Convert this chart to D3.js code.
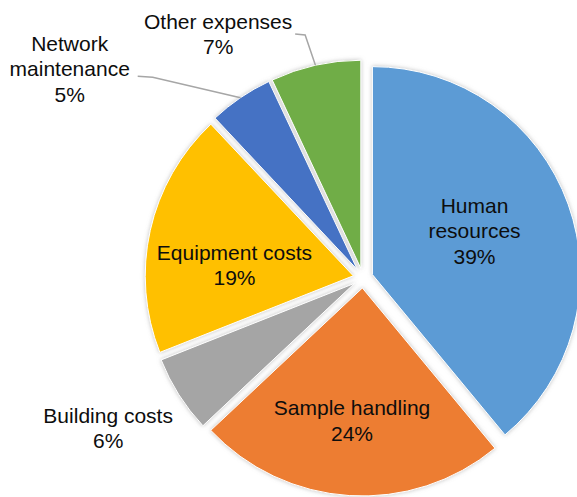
<!DOCTYPE html>
<html>
<head>
<meta charset="utf-8">
<script src="https://cdn.jsdelivr.net/npm/d3@7/dist/d3.min.js"></script>
<style>
  html, body { margin: 0; padding: 0; background: #fff; }
  svg { display: block; }
  text { font-family: "Liberation Sans", Arial, sans-serif; }
</style>
</head>
<body>
<svg id="chart" width="577" height="497"></svg>
<script>
// ---- data ----
const categories = ["Human resources", "Sample handling", "Building costs", "Equipment costs", "Network maintenance", "Other expenses"];
const values = [39, 24, 6, 19, 5, 7];
const labelLines = [["Human", "resources"], ["Sample handling"], ["Building costs"], ["Equipment costs"], ["Network", "maintenance"], ["Other expenses"]];

// ---- styles / layout ----
const colors = ["#5B9BD5", "#ED7D31", "#A5A5A5", "#FFC000", "#4472C4", "#70AD47"];
const W = 577, H = 497;
const cx = 363, cy = 278, R = 208, explode = 10;
const fontSize = 21, lineH = 25.6;
// label block centre in polar coords around the pie centre (angle deg clockwise from 12 o'clock, radius as fraction of R)
const labelPolar = [
  {a: 67.1, r: 0.582}, {a: 184.4, r: 0.687}, {a: 239.5, r: 1.422},
  {a: 275.8, r: 0.621}, {a: 305.5, r: 1.732}, {a: 329.3, r: 1.364}
];
// leader lines: start offset from label centre and horizontal elbow length
const leaders = {4: {dx: 68, dy: 7.5, elbow: 15}, 5: {dx: 77, dy: 0, elbow: 10}};

const svg = d3.select("#chart");
const defs = svg.append("defs");
const f = defs.append("filter").attr("id", "sh")
  .attr("x", "-20%").attr("y", "-20%").attr("width", "140%").attr("height", "140%");
f.append("feDropShadow").attr("dx", 0).attr("dy", 0).attr("stdDeviation", 2)
  .attr("flood-color", "#8c8c8c").attr("flood-opacity", 0.55);

const total = d3.sum(values);
const pie = d3.pie().sort(null).value(d => d).startAngle(0).endAngle(2 * Math.PI);
const arcs = pie(values);
const arc = d3.arc().innerRadius(0).outerRadius(R);

const g = svg.append("g").attr("transform", `translate(${cx},${cy})`);

function offsetOf(d) {
  const m = (d.startAngle + d.endAngle) / 2;
  return [Math.sin(m) * explode, -Math.cos(m) * explode];
}

g.selectAll("path.slice").data(arcs).join("path")
  .attr("class", "slice")
  .attr("d", arc)
  .attr("transform", d => { const o = offsetOf(d); return `translate(${o[0]},${o[1]})`; })
  .attr("fill", (d, i) => colors[i])
  .attr("stroke", "#fff")
  .attr("stroke-width", 1)
  .attr("filter", "url(#sh)");

// labels
const labelG = svg.append("g");
arcs.forEach((d, i) => {
  const lp = labelPolar[i];
  const a = lp.a * Math.PI / 180;
  const lx = cx + Math.sin(a) * lp.r * R;
  const ly = cy - Math.cos(a) * lp.r * R;
  const lines = labelLines[i].concat([Math.round(values[i] / total * 100) + "%"]);
  const n = lines.length;
  const firstBase = ly + 7.5 - (n - 1) / 2 * lineH;
  const t = labelG.append("text")
    .attr("text-anchor", "middle")
    .attr("font-size", fontSize)
    .attr("fill", "#0d0d0d");
  lines.forEach((s, k) => {
    t.append("tspan").attr("x", lx).attr("y", firstBase + k * lineH).text(s);
  });

  if (leaders[i]) {
    const L = leaders[i];
    const m = (d.startAngle + d.endAngle) / 2;
    const o = offsetOf(d);
    const ex = cx + o[0] + Math.sin(m) * R;
    const ey = cy + o[1] - Math.cos(m) * R;
    const sx = lx + L.dx, sy = ly + L.dy;
    const pts = [[sx, sy], [sx + L.elbow, sy + 1], [ex, ey]];
    svg.append("path")
      .attr("d", d3.line()(pts))
      .attr("fill", "none")
      .attr("stroke", "#a6a6a6")
      .attr("stroke-width", 1.5);
  }
});
</script>
</body>
</html>
